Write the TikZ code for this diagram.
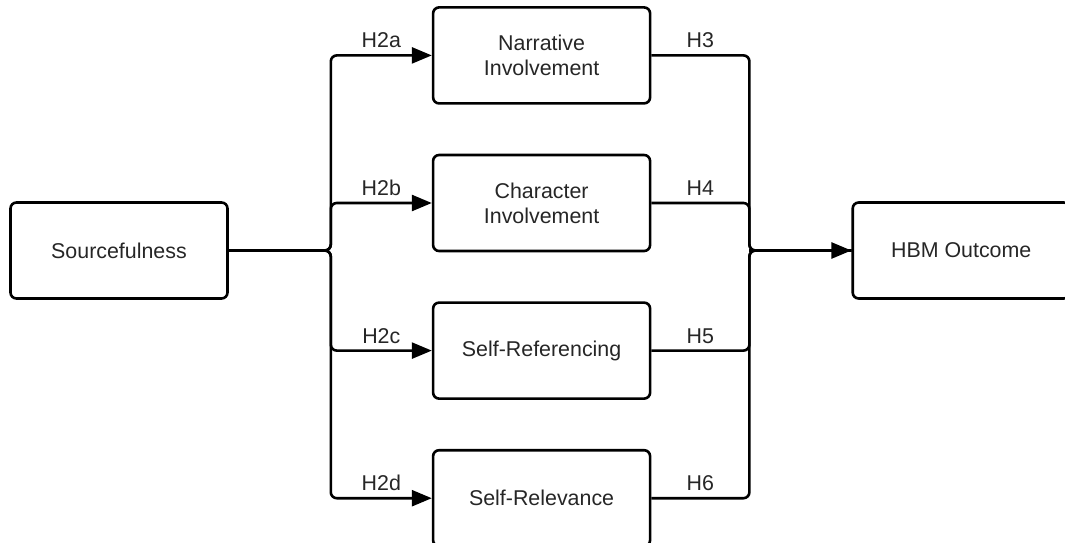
\documentclass[tikz,border=0pt]{standalone}
\usepackage{fontspec}
\setmainfont{Liberation Sans}
\usetikzlibrary{positioning, calc, arrows.meta}

\begin{document}
\begin{tikzpicture}
\tikzstyle{box}=[rectangle, rounded corners=3pt, draw=black, line width=1.3pt, minimum width=108.5pt, minimum height=48pt, align=center, text=black!85, font=\fontsize{10.7}{12.5}\selectfont]
\tikzstyle{connect}=[-{Triangle[length=10pt, width=8pt]}, line width=1.3pt, rounded corners=3pt]
\tikzstyle{joint}=[line width=1.3pt, rounded corners=3pt]
\tikzstyle{hyp}=[above, inner sep=3pt, text=black!85, font=\fontsize{10.7}{12.5}\selectfont]
\useasboundingbox (-59.5pt,125.25pt) rectangle (473pt,-145.75pt);
\node[box] (src) at (0,0) {Sourcefulness};
\node[box] (cha) [right=101.5pt of src, yshift=23.75pt] {Character\\Involvement};
\node[box] (nar) [above=24.5pt of cha] {Narrative\\Involvement};
\node[box] (ref) [below=24.5pt of cha] {Self-Referencing};
\node[box] (rel) [below=24.5pt of ref] {Self-Relevance};
\node[box] (out) [right=100pt of cha, yshift=-23.75pt] {HBM Outcome};
\coordinate (busl) at ($(src.east)+(51pt,0)$);
\coordinate (busr) at ($(out.west)+(-51pt,0)$);
% sourcefulness to the four routes
\draw[connect] (src.east) -- (busl) |- node[hyp, pos=0.75] {H2a} (nar.west);
\draw[connect] (src.east) -- (busl) |- node[hyp, pos=0.75] {H2b} (cha.west);
\draw[connect] (src.east) -- (busl) |- node[hyp, pos=0.75] {H2c} (ref.west);
\draw[connect] (src.east) -- (busl) |- node[hyp, pos=0.75] {H2d} (rel.west);
% routes to the outcome
\draw[joint] (nar.east) -| node[hyp, pos=0.25] {H3} (busr) -- (out.west);
\draw[joint] (cha.east) -| node[hyp, pos=0.25] {H4} (busr) -- (out.west);
\draw[joint] (ref.east) -| node[hyp, pos=0.25] {H5} (busr) -- (out.west);
\draw[joint] (rel.east) -| node[hyp, pos=0.25] {H6} (busr) -- (out.west);
\draw[connect] (busr) -- (out.west);
\end{tikzpicture}
\end{document}
